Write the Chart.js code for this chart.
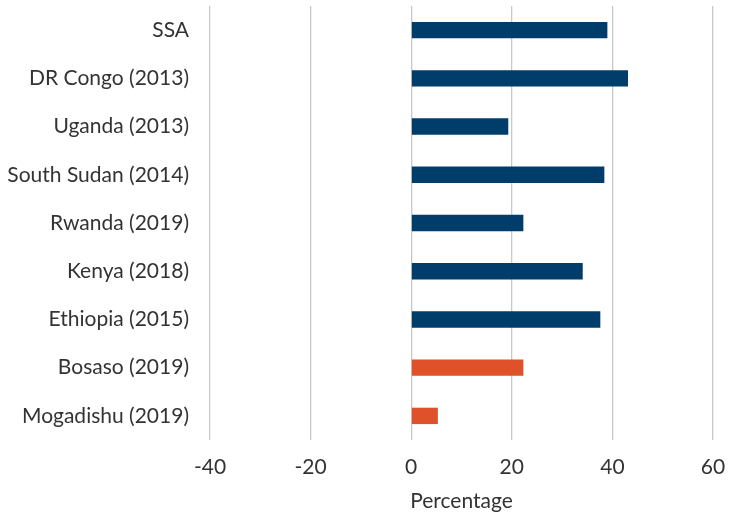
<!DOCTYPE html>
<html>
<head>
<meta charset="utf-8">
<script src="https://cdn.jsdelivr.net/npm/chart.js@4"></script>
<style>
  html, body { margin: 0; padding: 0; background: #fff; }
  #wrap { width: 729px; height: 514px; }
</style>
</head>
<body>
<div id="wrap"><canvas id="bar-chart"></canvas></div>
<script>
var labels = ["SSA", "DR Congo (2013)", "Uganda (2013)", "South Sudan (2014)", "Rwanda (2019)",
  "Kenya (2018)", "Ethiopia (2015)", "Bosaso (2019)", "Mogadishu (2019)"];
var values = [39, 43.1, 19.3, 38.4, 22.3, 34.1, 37.6, 22.3, 5.3];
var barColors = ["#003d6b", "#003d6b", "#003d6b", "#003d6b", "#003d6b",
  "#003d6b", "#003d6b", "#de5129", "#de5129"];

Chart.defaults.font.family = "Lato";
Chart.defaults.color = "#333";

new Chart(document.getElementById("bar-chart"), {
  type: 'bar',
  data: {
    labels: labels,
    datasets: [{
      data: values,
      backgroundColor: barColors,
      barPercentage: 0.34,
      categoryPercentage: 1
    }]
  },
  options: {
    indexAxis: 'y',
    responsive: true,
    maintainAspectRatio: false,
    animation: false,
    layout: { padding: { top: 6, right: 16, left: 0, bottom: 0 } },
    plugins: {
      legend: { display: false },
      tooltip: { enabled: false }
    },
    scales: {
      x: {
        min: -40,
        max: 60,
        ticks: { stepSize: 20, font: { size: 21 }, padding: 15 },
        grid: { color: "#c8c8c8", lineWidth: 1.3, drawTicks: false },
        border: { display: false },
        title: { display: true, text: "Percentage", font: { size: 21 }, padding: { top: 0, bottom: 0 } },
        afterFit: function (s) {
          s.paddingLeft = 0;
          s.paddingRight = 0;
          s.height = 74;
        }
      },
      y: {
        ticks: { font: { size: 21 }, padding: 13 },
        grid: { display: false },
        border: { display: false },
        afterFit: function (s) {
          s.paddingTop = 0;
          s.paddingBottom = 0;
          s.width = 210;
        }
      }
    }
  }
});
</script>
</body>
</html>
